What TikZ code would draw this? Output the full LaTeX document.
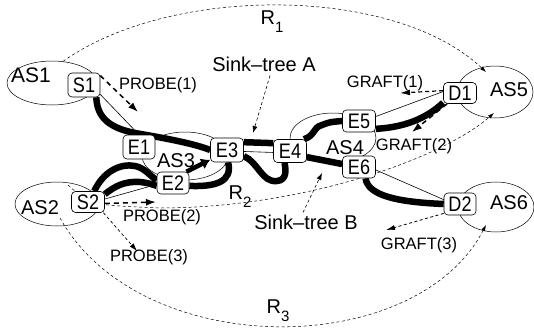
\documentclass[tikz,border=0pt]{standalone}
\usepackage{fontspec}
\setmainfont{Liberation Sans}
\newfontfamily\narrowfont{Liberation Sans}[FakeStretch=0.86]
\usetikzlibrary{arrows.meta,shapes.geometric}
\pgfdeclarelayer{bg}
\pgfsetlayers{bg,main}
\begin{document}
\begin{tikzpicture}[x=1pt,y=-1pt,
  box/.style={draw,rounded corners=4pt,fill=white,line width=0.6pt,minimum width=33pt,minimum height=23pt,inner sep=0pt,font=\narrowfont\fontsize{21}{21}\selectfont},
  asell/.style={draw,ellipse,line width=0.5pt,inner sep=0pt},
  lbl/.style={font=\fontsize{20}{20}\selectfont,inner sep=0pt},
  msg/.style={font=\fontsize{16.5}{17}\selectfont,inner sep=0pt},
  big/.style={line width=6.5pt},
  thinl/.style={line width=0.6pt},
  rpath/.style={dash pattern=on 3pt off 2.5pt,line width=0.5pt,-{Latex[length=6pt,width=4pt]}},
  sinkarrow/.style={dash pattern=on 3pt off 2.5pt,line width=0.6pt,-{Latex[length=7pt,width=5pt]}},
  probethick/.style={dash pattern=on 5pt off 4pt,line width=1.5pt,-{Latex[length=10pt,width=7pt]}},
  probethin/.style={dash pattern=on 3pt off 2.5pt,line width=0.7pt,-{Latex[length=8pt,width=5pt]}},
]
\useasboundingbox (0,0) rectangle (534,329);

% boxes
\node[box,minimum width=32pt,minimum height=24pt] (S1) at (84,85) {S1};
\node[box,minimum height=21pt] (S2) at (88,202) {S2};
\node[box,minimum width=32pt,minimum height=24pt] (E1) at (139,147) {E1};
\node[box,minimum width=32pt,minimum height=22pt] (E2) at (173,183) {E2};
\node[box,minimum height=24pt] (E3) at (227,150) {E3};
\node[box] (E4) at (290,151) {E4};
\node[box,minimum height=22pt] (E5) at (359,121) {E5};
\node[box,minimum height=22pt] (E6) at (359,167) {E6};
\node[box,minimum height=21pt] (D1) at (460,93) {D1};
\node[box,minimum width=32pt,minimum height=22pt] (D2) at (460,204) {D2};

% labels
\node[lbl,font=\fontsize{21}{21}\selectfont] (tAS1) at (31,75) {AS1};
\node[lbl] (tAS2) at (40,208) {AS2};
\node[lbl] (tAS3) at (176,161) {AS3};
\node[lbl] (tAS4) at (345,148) {AS4};
\node[lbl] (tAS5) at (509,90) {AS5};
\node[lbl] (tAS6) at (509,203) {AS6};
\node[msg] (pr1) at (158,85) {PROBE(1)};
\node[msg] (pr2) at (162,217) {PROBE(2)};
\node[msg] (pr3) at (149,257) {PROBE(3)};
\node[msg] (gr1) at (385,83) {GRAFT(1)};
\node[msg] (gr2) at (414,146) {GRAFT(2)};
\node[msg] (gr3) at (419,245) {GRAFT(3)};
\node[lbl] (sinkA) at (264,64) {Sink--tree A};
\node[lbl] (sinkB) at (306,222) {Sink--tree B};
\node[lbl] (R1) at (272,22) {R\raisebox{-0.4em}{\fontsize{15}{15}\selectfont 1}};
\node[lbl] (R2) at (240,197) {R\raisebox{-0.4em}{\fontsize{15}{15}\selectfont 2}};
\node[lbl] (R3) at (278,311) {R\raisebox{-0.4em}{\fontsize{15}{15}\selectfont 3}};

% free ends
\coordinate (r1end) at (486,72);
\coordinate (r2start) at (68,185);
\coordinate (r2end) at (494,113);
\coordinate (r3start) at (60,218);
\coordinate (r3end) at (486,225);
\coordinate (tipA) at (253,133);
\coordinate (tipB) at (322,173);
\coordinate (p1) at (138,112);
\coordinate (p2) at (156,202);
\coordinate (p3) at (137,251);
\coordinate (g1) at (400,93);
\coordinate (g2) at (412,132);
\coordinate (g3) at (386,230);

\begin{pgfonlayer}{bg}
  % AS ellipses
  \node[asell,minimum width=90pt,minimum height=44pt] (as1) at (52,83) {};
  \node[asell,minimum width=84pt,minimum height=44pt] (as2) at (57,204) {};
  \node[asell,minimum width=86pt,minimum height=48pt] (as3) at (185,156) {};
  \node[asell,minimum width=86pt,minimum height=50pt] (as4) at (333,138) {};
  \node[asell,minimum width=76pt,minimum height=52pt] (as5) at (495,92) {};
  \node[asell,minimum width=76pt,minimum height=50pt] (as6) at (496,207) {};

  % R paths
  \draw[rpath] (as1.63) .. controls (170,-15) and (394,-15) .. (r1end);
  \draw[rpath] (r2start) .. controls (90,205) .. (160,208) .. controls (300,208) and (440,160) .. (r2end);
  \draw[rpath] (r3start) .. controls (140,361) and (415,361) .. (r3end);

  % sink tree A
  \draw[big] (S1.-45) .. controls (97,118) and (110,128) .. (135,133) .. controls (170,139) and (195,144) .. (E3.west);
  \draw[thinl] (S1.-30) -- (E1.north);
  \draw[big] (E3.25) -- (E4.155);
  \draw[thinl] (E3.-5) -- (E4.-175);
  \draw[big] (E4.40) .. controls (316,135) and (312,128) .. (322,125) .. controls (330,122) .. (E5.west);
  \draw[thinl] (E5.15) -- (D1.175);
  \draw[big] (E5.-25) .. controls (410,127) and (430,115) .. (D1.-150);

  % sink tree B
  \draw[big] (S2.60) .. controls (103,172) and (120,163) .. (135,166) .. controls (145,168) and (150,176) .. (E2.170);
  \draw[big] (S2.25) .. controls (115,186) and (125,181) .. (140,182) .. controls (148,183) .. (E2.-170);
  \draw[thinl] (S2.10) -- (E2.-175);
  \draw[line width=4.5pt,-{Latex[length=9pt,width=12pt]}] (E2.40) -- (E3.-150);
  \draw[big] (E2.-10) .. controls (215,187) and (233,182) .. (E3.-85);
  \draw[big] (E3.-20) .. controls (258,162) and (262,183) .. (277,181) .. controls (287,180) and (286,170) .. (E4.-115);
  \draw[big] (E4.-20) -- (E6.170);
  \draw[thinl] (E6.-10) -- (D2.165);
  \draw[big] (E6.-60) .. controls (368,195) and (395,202) .. (D2.west);
\end{pgfonlayer}

% messages
\draw[sinkarrow] ([xshift=6pt,yshift=-4pt]sinkA.south) -- (tipA);
\draw[sinkarrow] ([xshift=-3pt,yshift=2pt]sinkB.north) -- (tipB);
\draw[probethick] (S1.30) -- (p1);
\draw[probethick] (S2.-5) -- (p2);
\draw[probethin] (S2.-35) -- (p3);
\draw[dash pattern=on 4pt off 3pt,line width=1.2pt,-{Latex[length=10pt,width=6pt]}] (D1.172) -- (g1);
\draw[probethick] (D1.-140) -- (g2);
\draw[dash pattern=on 3pt off 2.5pt,line width=0.8pt,-{Latex[length=9pt,width=5pt]}] (D2.-150) -- (g3);
\end{tikzpicture}
\end{document}
